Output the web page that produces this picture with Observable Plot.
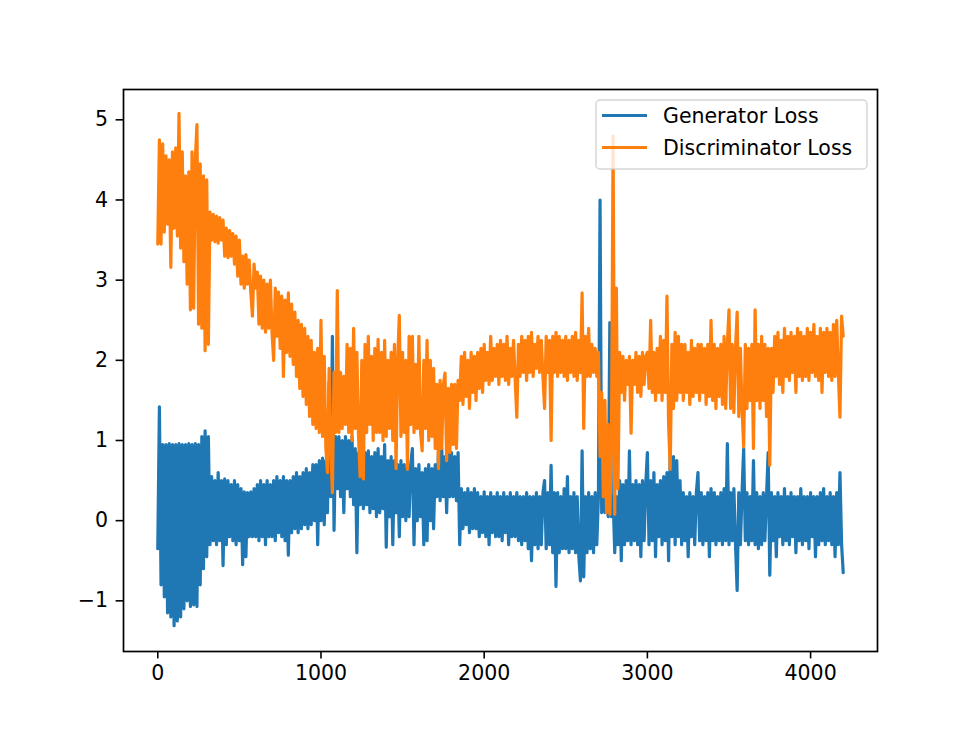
<!DOCTYPE html>
<html><head><meta charset="utf-8">
<script src="https://cdn.jsdelivr.net/npm/d3@7"></script>
<script src="https://cdn.jsdelivr.net/npm/@observablehq/plot@0.6"></script>
<style>body{margin:0;background:#fff}</style>
</head><body><div id="chart"></div>
<script>
// iteration spacing between recorded loss values
const stepSize = 10;

const generatorLoss = [
  -0.35, 1.42, -0.8, 0.95, -0.95, 0.95, -1.15, 0.96, -1.2, 0.95,
  -1.31, 0.95, -1.25, 0.96, -1.2, 0.95, -1.1, 0.95, -1.0, 0.96,
  -1.07, 0.95, -1.05, 0.96, -1.07, 0.95, -0.8, 1.05, -0.6, 1.12,
  -0.45, 1.05, -0.3, 0.55, -0.25, 0.5, -0.3, 0.6, -0.25, 0.5,
  -0.56, 0.52, -0.3, 0.5, -0.2, 0.45, -0.25, 0.5, -0.3, 0.45,
  -0.25, 0.4, -0.55, 0.36, -0.45, 0.35, -0.2, 0.36, -0.2, 0.4,
  -0.2, 0.45, -0.25, 0.5, -0.2, 0.45, -0.3, 0.5, -0.2, 0.45,
  -0.2, 0.5, -0.25, 0.55, -0.15, 0.5, -0.2, 0.55, -0.25, 0.5,
  -0.43, 0.5, -0.15, 0.55, -0.1, 0.6, -0.15, 0.55, -0.1, 0.6,
  -0.05, 0.65, -0.1, 0.6, -0.05, 0.7, 0.0, 0.7, -0.3, 0.75,
  0.0, 0.78, -0.05, 0.75, 0.1, 1.73, 0.3, 2.3, -0.12, 1.05,
  0.4, 1.05, 0.3, 1.0, 0.1, 1.05, 0.4, 1.0, 0.3, 1.05,
  0.2, 0.9, -0.4, 0.85, 0.2, 0.9, 0.15, 0.85, 0.2, 0.87,
  0.1, 0.8, 0.15, 0.85, 0.05, 0.9, 0.1, 0.8, 0.15, 0.95,
  -0.33, 0.75, 0.05, 0.8, -0.3, 0.75, 0.1, 0.7, -0.2, 0.75,
  0.05, 0.7, 0.0, 0.65, 0.05, 0.7, 0.9, -0.3, 0.65, 0.0,
  0.7, 0.05, 0.6, -0.3, 0.65, -0.25, 0.7, 0.0, 0.65, -0.1,
  0.7, 0.3, 0.85, 0.25, 0.9, 0.3, 0.8, 0.1, 0.85, 0.3,
  0.85, 0.3, 0.8, 0.25, 0.85, -0.3, 0.4, -0.1, 0.35, -0.05,
  0.4, -0.15, 0.35, -0.1, 0.4, -0.1, 0.35, -0.2, 0.3, -0.15,
  0.36, -0.2, 0.3, -0.3, 0.35, -0.15, 0.3, -0.2, 0.35, -0.2,
  0.3, -0.25, 0.35, -0.15, 0.3, -0.3, 0.35, -0.2, 0.3, -0.2,
  0.35, -0.25, 0.3, -0.3, 0.3, -0.25, 0.35, -0.35, 0.3, -0.5,
  0.3, -0.3, 0.35, -0.35, 0.3, -0.3, 0.35, 0.5, -0.35, 0.35,
  -0.3, 0.69, -0.4, 0.35, -0.82, 0.35, -0.4, 0.3, -0.35, 0.4,
  -0.35, 0.55, -0.4, 0.3, -0.35, 0.35, -0.4, 0.3, -0.45, -0.75,
  0.87, -0.7, 0.3, -0.4, 0.35, -0.35, 0.3, -0.4, 0.35, -0.3,
  0.3, 4.0, 0.1, 0.3, 0.1, 0.3, 0.05, 2.47, 0.05, 0.3,
  -0.4, 0.3, -0.3, 0.5, -0.5, 0.45, -0.3, 0.5, -0.25, 0.87,
  -0.3, 0.45, -0.25, 0.5, -0.3, 0.45, -0.45, 0.5, -0.25, 0.45,
  0.85, -0.3, 0.5, -0.25, 0.6, -0.45, 0.45, -0.2, 0.5, -0.3,
  0.55, -0.25, 0.6, -0.5, 0.85, -0.2, 0.8, -0.3, 0.75, -0.2,
  0.5, -0.3, 0.35, -0.25, 0.3, -0.45, 0.35, -0.2, 0.3, -0.3,
  0.35, 0.6, -0.25, 0.35, -0.3, 0.3, -0.25, 0.35, -0.45, 0.4,
  -0.25, 0.35, -0.3, 0.3, -0.25, 0.35, -0.3, 0.4, -0.25, 0.96,
  -0.3, 0.35, -0.25, 0.4, -0.3, -0.87, 0.35, -0.3, 0.35, 0.9,
  -0.25, 0.35, -0.3, 0.3, -0.25, 0.75, -0.3, 0.35, -0.35, 0.3,
  -0.3, 0.35, -0.25, 0.3, 0.85, -0.68, 0.35, -0.25, 0.3, -0.45,
  0.35, -0.2, 0.3, -0.3, 0.4, -0.25, 0.3, -0.3, 0.35, -0.2,
  0.3, -0.4, 0.3, -0.25, 0.4, -0.3, 0.3, -0.25, 0.3, -0.35,
  0.35, -0.2, 0.3, -0.45, 0.3, -0.3, 0.35, -0.25, 0.4, -0.3,
  0.3, -0.25, 0.35, -0.3, 0.3, -0.45, 0.35, -0.3, 0.6, -0.3,
  -0.65
];

const discriminatorLoss = [
  3.45, 4.75, 3.45, 4.7, 3.6, 4.55, 3.7, 4.5, 3.16, 4.6,
  3.65, 4.65, 3.55, 5.08, 3.4, 4.6, 3.23, 4.3, 2.95, 4.35,
  2.63, 4.6, 2.65, 4.5, 4.94, 2.45, 4.45, 2.4, 4.3, 2.12,
  4.25, 2.2, 3.85, 3.5, 3.82, 3.48, 3.8, 3.46, 3.78, 3.5,
  3.75, 3.3, 3.65, 3.28, 3.62, 3.3, 3.58, 3.2, 3.55, 3.05,
  3.5, 2.95, 3.3, 2.9, 3.32, 2.95, 3.25, 2.85, 2.55, 3.2,
  2.9, 3.1, 2.45, 3.05, 2.4, 3.0, 2.35, 2.95, 2.4, 3.0,
  2.35, 2.0, 2.9, 2.3, 2.85, 2.15, 2.8, 1.8, 2.75, 2.1,
  2.84, 2.05, 2.7, 1.95, 2.6, 1.8, 2.5, 1.65, 2.45, 1.55,
  2.4, 1.45, 2.3, 1.3, 2.25, 1.2, 2.1, 1.15, 2.15, 1.1,
  2.5, 1.05, 2.05, 0.9, 0.6, 1.9, 0.9, 0.35, 1.85, 1.1,
  2.87, 1.1, 1.85, 1.15, 1.8, 1.2, 2.2, 1.1, 2.15, 1.0,
  2.4, 1.15, 2.1, 1.05, 0.55, 2.0, 0.52, 2.2, 1.1, 2.3,
  1.2, 2.05, 1.0, 2.15, 1.1, 2.26, 1.1, 2.1, 1.0, 2.25,
  1.05, 2.0, 1.15, 2.1, 1.0, 2.2, 0.65, 2.0, 2.56, 1.05,
  2.1, 1.1, 2.0, 0.64, 2.3, 1.2, 2.3, 1.1, 1.95, 1.15,
  2.3, 1.1, 0.87, 2.0, 1.15, 2.25, 1.0, 2.0, 1.05, 1.9,
  0.9, 1.7, 0.65, 1.75, 0.9, 1.7, 1.84, 0.75, 1.65, 0.85,
  1.7, 0.95, 1.7, 0.9, 1.75, 1.5, 2.05, 1.45, 2.1, 1.55,
  2.0, 1.4, 2.1, 1.6, 2.05, 1.5, 2.1, 1.65, 2.15, 1.6,
  2.2, 1.75, 2.1, 1.7, 2.3, 1.75, 2.15, 1.8, 2.2, 1.7,
  2.25, 1.8, 2.2, 1.75, 2.3, 1.7, 2.15, 1.8, 2.25, 1.75,
  1.29, 2.2, 1.8, 2.3, 1.85, 2.25, 1.75, 2.3, 1.85, 2.35,
  1.8, 2.2, 1.9, 2.3, 1.85, 2.25, 1.8, 1.4, 2.3, 1.85,
  2.25, 1.0, 2.3, 1.85, 2.35, 1.8, 2.3, 1.85, 2.25, 1.8,
  2.3, 1.75, 2.25, 1.85, 2.3, 1.8, 2.35, 1.75, 2.25, 1.85,
  2.84, 1.15, 2.3, 1.8, 2.4, 1.8, 2.2, 1.85, 2.15, 1.8,
  2.1, 0.8, 1.6, 0.3, 1.5, 0.1, 1.2, 0.08, 1.0, 4.8,
  0.08, 2.9, 0.4, 2.1, 1.6, 2.05, 1.5, 2.0, 1.7, 2.05,
  1.09, 2.0, 1.7, 2.1, 1.6, 2.05, 1.55, 2.1, 1.7, 2.05,
  2.1, 1.65, 2.5, 1.6, 2.1, 1.5, 2.15, 1.6, 2.3, 1.5,
  2.25, 1.6, 2.8, 1.2, 0.64, 2.2, 1.4, 2.35, 1.5, 2.3,
  1.6, 2.2, 1.5, 2.2, 1.6, 2.1, 1.45, 2.25, 1.55, 2.15,
  1.6, 2.2, 1.5, 2.2, 1.6, 2.15, 1.45, 2.2, 1.55, 2.5,
  1.5, 2.2, 1.4, 2.15, 1.55, 2.2, 1.45, 2.3, 1.4, 2.2,
  2.63, 1.4, 2.2, 1.35, 2.15, 2.6, 1.3, 2.15, 1.4, 0.92,
  2.2, 1.4, 2.15, 1.5, 2.2, 0.9, 2.63, 1.5, 2.2, 1.4,
  2.3, 1.5, 2.2, 1.3, 2.15, 0.69, 2.15, 1.6, 2.3, 1.8,
  2.35, 1.7, 2.25, 1.6, 2.4, 1.8, 2.3, 1.75, 2.35, 1.85,
  2.3, 1.6, 2.4, 1.8, 2.35, 1.75, 2.3, 1.8, 2.4, 1.75,
  2.35, 1.85, 2.45, 1.8, 2.3, 1.75, 2.4, 1.6, 2.35, 1.85,
  2.4, 1.8, 2.35, 1.75, 2.45, 1.8, 2.5, 1.85, 1.29, 2.55,
  2.3
];

const xTicks = [0, 1000, 2000, 3000, 4000];
const yTicks = [-1, 0, 1, 2, 3, 4, 5];
const seriesNames = ["Generator Loss", "Discriminator Loss"];
const seriesColors = ["#1f77b4", "#ff7f0e"];

const genRows = generatorLoss.map((v, i) => ({step: i * stepSize, loss: v}));
const discRows = discriminatorLoss.map((v, i) => ({step: i * stepSize, loss: v}));

const W = 974, H = 731;
const mL = 123, mR = 97, mT = 89, mB = 80;

const chart = Plot.plot({
  width: W, height: H,
  marginLeft: mL, marginRight: mR, marginTop: mT, marginBottom: mB,
  style: {fontFamily: "'DejaVu Sans', sans-serif", fontSize: "20.5px", color: "#000", background: "#fff"},
  x: {domain: [-210, 4410]},
  y: {domain: [-1.632, 5.378]},
  marks: [
    Plot.line(genRows, {x: "step", y: "loss", stroke: seriesColors[0], strokeWidth: 3.2}),
    Plot.line(discRows, {x: "step", y: "loss", stroke: seriesColors[1], strokeWidth: 3.2}),
    Plot.frame({stroke: "#000", strokeWidth: 1.7}),
    Plot.axisX({ticks: xTicks, tickFormat: "d", tickSize: 7.4, tickPadding: 7, strokeWidth: 1.6, label: null}),
    Plot.axisY({ticks: yTicks, tickFormat: "d", tickSize: 7.4, tickPadding: 8, strokeWidth: 1.6, label: null})
  ]
});

document.getElementById("chart").appendChild(chart);

// legend (upper right inside the axes)
const svg = d3.select(chart);
const boxR = W - mR - 10, boxW = 271, boxX = boxR - boxW, boxY = mT + 11, boxH = 69;
const g = svg.append("g").attr("text-anchor", "start");
g.append("rect")
  .attr("x", boxX).attr("y", boxY).attr("width", boxW).attr("height", boxH)
  .attr("rx", 4).attr("fill", "#fff").attr("fill-opacity", 0.8)
  .attr("stroke", "#cccccc").attr("stroke-opacity", 0.8).attr("stroke-width", 1.5);
seriesNames.forEach((name, i) => {
  const ly = boxY + 15.5 + i * 32;
  g.append("line").attr("x1", boxX + 6).attr("x2", boxX + 51).attr("y1", ly).attr("y2", ly)
    .attr("stroke", seriesColors[i]).attr("stroke-width", 3);
  g.append("text").attr("x", boxX + 67).attr("y", ly + 7.5)
    .attr("text-anchor", "start").attr("font-size", "20.5px").attr("fill", "#000").text(name);
});
</script></body></html>
